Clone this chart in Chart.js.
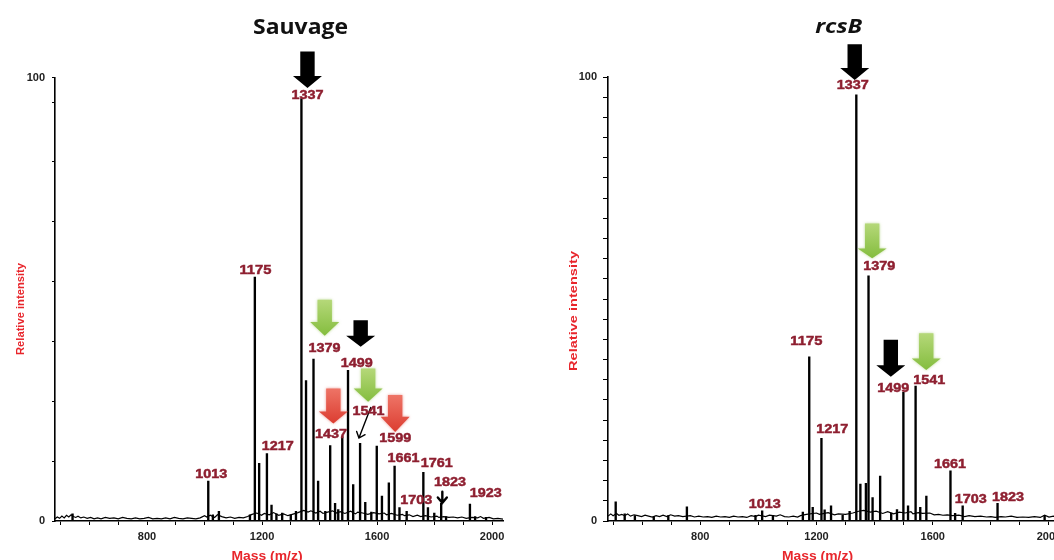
<!DOCTYPE html>
<html lang="en">
<head>
<meta charset="UTF-8">
<title>MALDI spectra - Sauvage / rcsB</title>
<script src="https://cdn.jsdelivr.net/npm/chart.js"></script>
<style>
    html, body {
        margin: 0;
        padding: 0;
        width: 1054px;
        height: 560px;
        overflow: hidden;
        background: #fff;
    }
    .panel { position: absolute; top: 0; height: 560px; }
    #leftPanel { left: 0; width: 527px; }
    #rightPanel { left: 530px; width: 560px; }
</style>
</head>
<body>
<div class="panel" id="leftPanel"><canvas id="chartL"></canvas></div>
<div class="panel" id="rightPanel"><canvas id="chartR"></canvas></div>

<script>
// ---- data (m/z, relative intensity) ----
const massTicks = [500, 600, 700, 800, 900, 1000, 1100, 1200, 1300, 1400, 1500, 1600, 1700, 1800, 1900, 2000];
const massLabels = [800, 1200, 1600, 2000];
const intTicksL = [0, 13.5, 27, 40.5, 54, 67.5, 81, 94.5, 100];
const intTicksR = [0, 4.55, 9.09, 13.64, 18.18, 22.73, 27.27, 31.82, 36.36, 40.91, 45.45, 50,
                   54.55, 59.09, 63.64, 68.18, 72.73, 77.27, 81.82, 86.36, 90.91, 95.45, 100];
const intLabels = [0, 100];

// Sauvage
const peakMassL = [541, 1013, 1029, 1050, 1158, 1175, 1190, 1217, 1233, 1250, 1270, 1300, 1318, 1337, 1353,
                   1379, 1395, 1420, 1437, 1454, 1465, 1479, 1499, 1517, 1541, 1559, 1580, 1599, 1617, 1641,
                   1661, 1678, 1703, 1761, 1777, 1799, 1823, 1840, 1923, 1941, 1979];
const peakIntL  = [1.6, 9.0, 1.4, 2.2, 1.4, 55, 13, 15.2, 3.6, 1.6, 1.8, 1.4, 2.2, 95.3, 31.7,
                   36.5, 9.0, 2.2, 17.0, 4.0, 2.6, 19.0, 34.0, 8.2, 17.5, 4.2, 2.0, 16.9, 5.6, 8.6,
                   12.4, 3.0, 2.2, 11.0, 3.0, 1.8, 4.0, 1.0, 3.8, 1.0, 0.8];
const noiseMassL = [480, 488, 496, 504, 512, 520, 528, 536, 544, 552,
                    560, 570, 580, 592, 604, 616, 628, 640, 655, 670,
                    685, 700, 715, 730, 745, 760, 775, 790, 805, 820,
                    835, 850, 865, 880, 895, 910, 925, 940, 955, 970,
                    985, 1000, 1008, 1020, 1035, 1045, 1060, 1075, 1090, 1105,
                    1120, 1135, 1150, 1165, 1182, 1198, 1208, 1225, 1240, 1258,
                    1275, 1290, 1305, 1325, 1345, 1360, 1370, 1387, 1402, 1412,
                    1428, 1445, 1460, 1472, 1488, 1508, 1525, 1533, 1550, 1568,
                    1588, 1607, 1625, 1633, 1650, 1670, 1688, 1695, 1712, 1725,
                    1740, 1752, 1768, 1788, 1808, 1815, 1832, 1850, 1865, 1880,
                    1895, 1910, 1930, 1950, 1960, 1970, 1990, 2005, 2020, 2038];
const noiseIntL  = [0.5, 0.9, 0.6, 1.1, 0.7, 1.3, 0.9, 1.4, 1.0, 0.8,
                    1.1, 0.7, 0.9, 0.6, 0.8, 0.5, 0.7, 0.5, 0.8, 0.6,
                    0.7, 0.5, 0.8, 0.6, 0.5, 0.7, 0.5, 0.6, 0.8, 0.5,
                    0.6, 0.5, 0.7, 0.5, 0.8, 0.6, 0.5, 0.7, 0.6, 0.5,
                    0.7, 1.2, 0.9, 1.3, 0.8, 1.4, 1.0, 0.7, 0.9, 0.6,
                    0.8, 0.7, 1.0, 1.5, 1.8, 1.3, 1.7, 1.4, 1.9, 1.3,
                    1.6, 1.2, 1.5, 1.9, 2.4, 2.0, 2.3, 1.8, 2.2, 1.7,
                    2.0, 2.3, 1.8, 2.1, 1.7, 2.2, 1.6, 2.0, 1.8, 1.5,
                    1.9, 1.6, 1.8, 1.4, 1.7, 1.3, 1.5, 1.2, 1.4, 1.0,
                    1.3, 1.0, 1.2, 0.9, 1.1, 0.8, 1.0, 0.8, 0.9, 0.7,
                    0.9, 0.6, 0.8, 0.7, 1.0, 0.6, 0.8, 0.5, 0.6, 0.4];

// rcsB
const peakMassR = [509, 540, 575, 640, 690, 754, 990, 1013, 1050, 1153, 1175, 1187, 1217, 1228, 1250,
                   1290, 1314, 1337, 1351, 1370, 1379, 1393, 1419, 1457, 1477, 1499, 1515, 1541, 1557,
                   1578, 1661, 1677, 1703, 1823, 1985];
const peakIntR  = [4.3, 1.6, 1.2, 1.0, 1.2, 3.2, 1.3, 2.3, 1.3, 2.0, 37, 3.1, 18.6, 2.5, 3.4,
                   1.3, 2.2, 96, 8.3, 8.5, 55.2, 5.3, 10.1, 1.8, 2.6, 29, 3.4, 30.4, 3.1,
                   5.6, 11.3, 1.7, 3.4, 4.0, 1.2];
const noiseMassR = [483, 492, 500, 512, 520, 530, 540, 550, 560, 572,
                    585, 598, 610, 622, 635, 648, 660, 672, 685, 698,
                    712, 725, 740, 766, 780, 795, 810, 825, 840, 855,
                    870, 885, 900, 915, 930, 945, 960, 975, 990, 1000,
                    1025, 1038, 1062, 1075, 1090, 1105, 1120, 1135, 1145, 1165,
                    1200, 1210, 1240, 1262, 1275, 1300, 1325, 1345, 1362, 1385,
                    1405, 1428, 1445, 1465, 1485, 1505, 1525, 1532, 1550, 1565,
                    1590, 1605, 1620, 1635, 1650, 1668, 1690, 1710, 1725, 1745,
                    1765, 1785, 1800, 1815, 1835, 1850, 1870, 1890, 1910, 1930,
                    1950, 1970, 1985, 2000, 2015, 2030];
const noiseIntR  = [1.1, 1.6, 1.2, 1.7, 1.3, 1.5, 1.2, 1.6, 1.1, 1.4,
                    1.2, 1.0, 1.3, 1.1, 0.9, 1.2, 1.0, 1.3, 1.0, 1.4,
                    1.1, 1.2, 1.0, 1.2, 0.9, 1.1, 0.9, 1.0, 0.8, 1.1,
                    0.9, 1.0, 0.8, 1.1, 0.9, 1.0, 0.8, 1.2, 1.0, 1.3,
                    1.0, 1.3, 1.1, 1.4, 1.0, 0.9, 1.1, 0.9, 1.2, 1.5,
                    1.8, 1.5, 1.9, 1.4, 1.6, 1.5, 1.8, 2.2, 2.4, 2.0,
                    2.2, 1.7, 2.1, 1.6, 2.0, 1.8, 2.1, 1.6, 1.9, 1.7,
                    1.8, 1.4, 1.5, 1.3, 1.4, 1.2, 1.3, 1.0, 1.2, 1.0,
                    1.1, 0.9, 1.0, 0.8, 1.0, 0.9, 1.1, 0.8, 0.9, 0.8,
                    1.0, 0.8, 1.3, 0.9, 1.1, 0.8];

// ---- annotations (positions in data units) ----
const labelsL = [
    {t: '1013', m: 1023, v: 10.8}, {t: '1175', m: 1177, v: 56.8}, {t: '1217', m: 1255, v: 17.2},
    {t: '1337', m: 1358, v: 96.4}, {t: '1379', m: 1417, v: 39.3}, {t: '1499', m: 1529, v: 35.9},
    {t: '1437', m: 1440, v: 19.8}, {t: '1541', m: 1570, v: 25.0}, {t: '1599', m: 1663, v: 19.0},
    {t: '1661', m: 1692, v: 14.5}, {t: '1761', m: 1808, v: 13.2}, {t: '1823', m: 1854, v: 9.0},
    {t: '1703', m: 1736, v: 5.0}, {t: '1923', m: 1978, v: 6.6}
];
const arrowsL = [
    {m: 1358, top: 105.9, head: 100.4, tip: 97.7, c: 'black'},
    {m: 1418, top: 49.9, head: 44.9, tip: 41.8, c: 'green'},
    {m: 1543, top: 45.3, head: 41.8, tip: 39.3, c: 'black'},
    {m: 1569, top: 34.4, head: 29.9, tip: 26.9, c: 'green'},
    {m: 1448, top: 29.9, head: 24.7, tip: 22.0, c: 'red'},
    {m: 1663, top: 28.4, head: 23.5, tip: 20.1, c: 'red'}
];
const thinL = [
    {m1: 1578, v1: 25.6, m2: 1537, v2: 18.7, w: 1.4},
    {m1: 1827, v1: 6.6, m2: 1827, v2: 4.1, w: 2.4}
];
const labelsR = [
    {t: '1337', m: 1325, v: 98.4}, {t: '1379', m: 1416, v: 57.7}, {t: '1175', m: 1165, v: 40.8},
    {t: '1217', m: 1254, v: 20.9}, {t: '1013', m: 1022, v: 4.0}, {t: '1499', m: 1464, v: 30.1},
    {t: '1541', m: 1588, v: 31.9}, {t: '1661', m: 1659, v: 13.1}, {t: '1703', m: 1731, v: 5.1},
    {t: '1823', m: 1859, v: 5.6}
];
const arrowsR = [
    {m: 1331.5, top: 107.4, head: 102, tip: 99.3, c: 'black'},
    {m: 1391.6, top: 67.0, head: 61.4, tip: 59.2, c: 'green'},
    {m: 1455.7, top: 40.8, head: 35.1, tip: 32.5, c: 'black'},
    {m: 1577.6, top: 42.3, head: 36.6, tip: 34.0, c: 'green'}
];

const FONT = "'Liberation Sans', Arial, sans-serif";
const RED = '#e8262c';
const PEAK_RED = '#8e1f30';

function fitText(ctx, txt, x, y, font, color, width, rot, stroke) {
    ctx.save();
    ctx.font = font;
    ctx.fillStyle = color;
    ctx.textAlign = 'center';
    ctx.textBaseline = 'alphabetic';
    ctx.translate(x, y);
    if (rot) ctx.rotate(rot);
    if (width) ctx.scale(width / ctx.measureText(txt).width, 1);
    ctx.fillText(txt, 0, 0);
    if (stroke) {
        ctx.strokeStyle = color;
        ctx.lineWidth = stroke;
        ctx.strokeText(txt, 0, 0);
    }
    ctx.restore();
}

function blockArrow(ctx, cx, yTop, yHead, yTip, color) {
    const sw = 7.2, hw = 14.5;
    let fill = '#000';
    if (color === 'green') {
        fill = ctx.createLinearGradient(0, yTop, 0, yTip);
        fill.addColorStop(0, '#b5d879');
        fill.addColorStop(1, '#84bd3e');
    } else if (color === 'red') {
        fill = ctx.createLinearGradient(0, yTop, 0, yTip);
        fill.addColorStop(0, '#ee7466');
        fill.addColorStop(1, '#dc3d31');
    }
    ctx.save();
    ctx.fillStyle = fill;
    if (color !== 'black') {
        ctx.shadowColor = color === 'green' ? 'rgba(140,190,70,0.6)' : 'rgba(220,70,60,0.6)';
        ctx.shadowBlur = 3;
    }
    ctx.beginPath();
    ctx.moveTo(cx - sw, yTop);
    ctx.lineTo(cx + sw, yTop);
    ctx.lineTo(cx + sw, yHead);
    ctx.lineTo(cx + hw, yHead);
    ctx.lineTo(cx, yTip);
    ctx.lineTo(cx - hw, yHead);
    ctx.lineTo(cx - sw, yHead);
    ctx.closePath();
    ctx.fill();
    ctx.restore();
}

function thinArrow(ctx, x1, y1, x2, y2, w) {
    const a = Math.atan2(y2 - y1, x2 - x1), len = 7;
    ctx.save();
    ctx.strokeStyle = '#000';
    ctx.lineWidth = w;
    ctx.lineCap = 'round';
    ctx.beginPath();
    ctx.moveTo(x1, y1);
    ctx.lineTo(x2, y2);
    ctx.moveTo(x2 - len * Math.cos(a - 0.7), y2 - len * Math.sin(a - 0.7));
    ctx.lineTo(x2, y2);
    ctx.lineTo(x2 - len * Math.cos(a + 0.7), y2 - len * Math.sin(a + 0.7));
    ctx.stroke();
    ctx.restore();
}

function annotPlugin(o) {
    return {
        id: 'annot',
        afterDraw(chart) {
            const {ctx, scales: {x, y}} = chart;
            o.arrows.forEach(a => blockArrow(ctx, x.getPixelForValue(a.m), y.getPixelForValue(a.top),
                y.getPixelForValue(a.head), y.getPixelForValue(a.tip), a.c));
            (o.thin || []).forEach(t => thinArrow(ctx, x.getPixelForValue(t.m1), y.getPixelForValue(t.v1),
                x.getPixelForValue(t.m2), y.getPixelForValue(t.v2), t.w));
            o.labels.forEach(l => fitText(ctx, l.t, x.getPixelForValue(l.m), y.getPixelForValue(l.v) + 5,
                'bold 13.5px ' + FONT, PEAK_RED, 32, 0, 0.5));
            fitText(ctx, o.title, o.titleX, o.titleY, o.titleFont, '#111', o.titleW);
            fitText(ctx, 'Relative intensity', o.yTitleX, o.yTitleY, 'bold 10.5px ' + FONT, RED, o.yTitleW, -Math.PI / 2);
            fitText(ctx, 'Mass (m/z)', o.xTitleX, 560, 'bold 12px ' + FONT, RED, 71);
        }
    };
}

function makeChart(id, o) {
    const tickFont = {family: FONT, size: 11, weight: 'bold'};
    return new Chart(document.getElementById(id), {
        type: 'bar',
        data: {
            datasets: [
                {
                    type: 'bar',
                    data: o.peakMass.map((m, i) => ({x: m, y: o.peakInt[i]})),
                    backgroundColor: '#000',
                    borderWidth: 0,
                    barThickness: 1.7,
                    grouped: false
                },
                {
                    type: 'line',
                    data: o.noiseMass.map((m, i) => ({x: m, y: o.noiseInt[i]})),
                    borderColor: '#000',
                    borderWidth: 1.2,
                    pointRadius: 0,
                    tension: 0
                }
            ]
        },
        options: {
            responsive: true,
            maintainAspectRatio: false,
            animation: false,
            layout: {padding: {top: o.padTop, right: o.padRight, left: 0, bottom: 0}},
            plugins: {legend: {display: false}, tooltip: {enabled: false}},
            scales: {
                x: {
                    type: 'linear',
                    min: o.xMin,
                    max: o.xMax,
                    offset: false,
                    grid: {offset: false, drawOnChartArea: false, tickLength: 4, color: '#000', lineWidth: 1},
                    border: {display: true, color: '#000', width: 1.6},
                    afterBuildTicks: s => { s.ticks = massTicks.map(v => ({value: v})); },
                    afterFit: s => { s.height = 39; },
                    ticks: {
                        autoSkip: false, maxRotation: 0, padding: 5, color: '#222', font: tickFont,
                        callback: v => massLabels.includes(v) ? String(v) : ''
                    }
                },
                y: {
                    min: 0,
                    max: 100,
                    grid: {drawOnChartArea: false, tickLength: o.yTickLen, color: '#000', lineWidth: 1},
                    border: {display: true, color: '#000', width: 1.6},
                    afterBuildTicks: s => { s.ticks = o.yTicks.map(v => ({value: v})); },
                    afterFit: s => { s.width = o.yWidth; },
                    ticks: {
                        autoSkip: false, padding: o.yPad, color: '#222', font: tickFont,
                        callback: v => intLabels.includes(v) ? String(v) : ''
                    }
                }
            }
        },
        plugins: [annotPlugin(o)]
    });
}

makeChart('chartL', {
    peakMass: peakMassL, peakInt: peakIntL, noiseMass: noiseMassL, noiseInt: noiseIntL,
    xMin: 480, xMax: 2038, yTicks: intTicksL, yWidth: 55, yTickLen: 3, yPad: 7,
    padTop: 77.7, padRight: 24,
    labels: labelsL, arrows: arrowsL, thin: thinL,
    title: 'Sauvage', titleX: 300.5, titleY: 34, titleFont: "bold 22px 'Open Sans', sans-serif", titleW: 95,
    yTitleX: 24, yTitleY: 309, yTitleW: 92, xTitleX: 267
});

makeChart('chartR', {
    peakMass: peakMassR, peakInt: peakIntR, noiseMass: noiseMassR, noiseInt: noiseIntR,
    xMin: 482.5, xMax: 2030, yTicks: intTicksR, yWidth: 78, yTickLen: 5, yPad: 6,
    padTop: 77, padRight: 32.3,
    labels: labelsR, arrows: arrowsR, thin: [],
    title: 'rcsB', titleX: 308.7, titleY: 32.5, titleFont: "italic bold 20px 'Open Sans', sans-serif", titleW: 47,
    yTitleX: 47, yTitleY: 311, yTitleW: 120, xTitleX: 287.5
});
</script>
</body>
</html>
